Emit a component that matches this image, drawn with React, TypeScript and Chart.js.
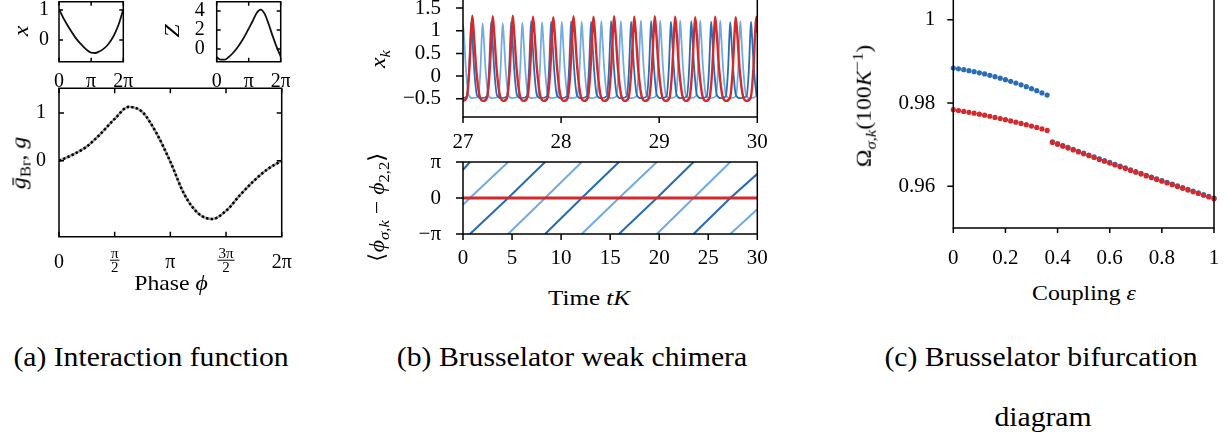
import React, { useEffect, useRef } from 'react';
import { Chart, registerables } from 'chart.js';

Chart.register(...registerables);

const FONT = "'Liberation Serif', 'Times New Roman', serif";
const RED = '#d42a2e';
const DARK_BLUE = '#2a6db3';
const LIGHT_BLUE = '#74ace2';

// ---------- (a) interaction function (phase in units of pi) ----------
const phiSmall = [0, 0.125, 0.25, 0.375, 0.5, 0.625, 0.75, 0.875, 1, 1.125, 1.25, 1.375, 1.5, 1.625, 1.75, 1.875, 2];
const xOrbit = [1.03, 0.76, 0.52, 0.3, 0.1, -0.07, -0.21, -0.34, -0.42, -0.43, -0.38, -0.3, -0.18, 0.0, 0.25, 0.58, 1.03];
const zPrc = [-0.88, -1.12, -1.12, -0.85, -0.45, 0.05, 0.65, 1.35, 2.15, 2.95, 3.8, 4.15, 3.7, 2.6, 1.35, 0.2, -0.8];
const phiMain = [0, 0.125, 0.25, 0.375, 0.5, 0.625, 0.75, 0.875, 1, 1.125, 1.25, 1.375, 1.5, 1.625, 1.75, 1.875, 2];
const gInteraction = [0, 0.13, 0.3, 0.57, 0.88, 1.13, 1.02, 0.58, -0.02, -0.7, -1.1, -1.22, -1.05, -0.72, -0.42, -0.17, 0];

// ---------- (b) top: x_k time series ----------
const xkRed: [number, number][] = [
  [27.0, -0.55],
  [27.037, -0.48], [27.065, 0.15], [27.083, 0.95], [27.095, 1.33], [27.11, 0.95], [27.135, 0.15], [27.17, -0.45], [27.205, -0.55],
  [27.245, -0.48], [27.273, 0.15], [27.291, 0.95], [27.303, 1.32], [27.318, 0.95], [27.343, 0.15], [27.378, -0.45], [27.413, -0.55],
  [27.449, -0.48], [27.477, 0.15], [27.495, 0.95], [27.507, 1.33], [27.522, 0.95], [27.547, 0.15], [27.582, -0.45], [27.617, -0.55],
  [27.656, -0.48], [27.684, 0.15], [27.702, 0.95], [27.714, 1.31], [27.729, 0.95], [27.754, 0.15], [27.789, -0.45], [27.824, -0.55],
  [27.862, -0.48], [27.89, 0.15], [27.908, 0.95], [27.92, 1.3], [27.935, 0.95], [27.96, 0.15], [27.995, -0.45], [28.03, -0.55],
  [28.068, -0.48], [28.096, 0.15], [28.114, 0.95], [28.126, 1.32], [28.141, 0.95], [28.166, 0.15], [28.201, -0.45], [28.236, -0.55],
  [28.272, -0.48], [28.3, 0.15], [28.318, 0.95], [28.33, 1.31], [28.345, 0.95], [28.37, 0.15], [28.405, -0.45], [28.44, -0.55],
  [28.482, -0.48], [28.51, 0.15], [28.528, 0.95], [28.54, 1.32], [28.555, 0.95], [28.58, 0.15], [28.615, -0.45], [28.65, -0.55],
  [28.688, -0.48], [28.716, 0.15], [28.734, 0.95], [28.746, 1.31], [28.761, 0.95], [28.786, 0.15], [28.821, -0.45], [28.856, -0.55],
  [28.897, -0.48], [28.925, 0.15], [28.943, 0.95], [28.955, 1.32], [28.97, 0.95], [28.995, 0.15], [29.03, -0.45], [29.065, -0.55],
  [29.105, -0.48], [29.133, 0.15], [29.151, 0.95], [29.163, 1.31], [29.178, 0.95], [29.203, 0.15], [29.238, -0.45], [29.273, -0.55],
  [29.309, -0.48], [29.337, 0.15], [29.355, 0.95], [29.367, 1.3], [29.382, 0.95], [29.407, 0.15], [29.442, -0.45], [29.477, -0.55],
  [29.513, -0.48], [29.541, 0.15], [29.559, 0.95], [29.571, 1.31], [29.586, 0.95], [29.611, 0.15], [29.646, -0.45], [29.681, -0.55],
  [29.722, -0.48], [29.75, 0.15], [29.768, 0.95], [29.78, 1.3], [29.795, 0.95], [29.82, 0.15], [29.855, -0.45], [29.89, -0.55],
  [29.932, -0.48], [29.96, 0.15], [29.978, 0.95], [29.99, 1.31], [30.005, 0.95], [30.03, 0.15], [30.065, -0.45], [30.1, -0.55],
];

const xkDarkBlue: [number, number][] = [
  [26.835, -0.45], [26.858, 0.15], [26.871, 0.85], [26.88, 1.2], [26.891, 0.85], [26.91, 0.15], [26.938, -0.42], [26.98, -0.49],
  [27.039, -0.45], [27.062, 0.15], [27.075, 0.85], [27.084, 1.19], [27.095, 0.85], [27.114, 0.15], [27.142, -0.42], [27.184, -0.49],
  [27.243, -0.45], [27.266, 0.15], [27.279, 0.85], [27.288, 1.2], [27.299, 0.85], [27.318, 0.15], [27.346, -0.42], [27.388, -0.49],
  [27.447, -0.45], [27.47, 0.15], [27.483, 0.85], [27.492, 1.2], [27.503, 0.85], [27.522, 0.15], [27.55, -0.42], [27.592, -0.49],
  [27.65, -0.45], [27.673, 0.15], [27.686, 0.85], [27.695, 1.21], [27.706, 0.85], [27.725, 0.15], [27.753, -0.42], [27.795, -0.49],
  [27.854, -0.45], [27.877, 0.15], [27.89, 0.85], [27.899, 1.2], [27.91, 0.85], [27.929, 0.15], [27.957, -0.42], [27.999, -0.49],
  [28.058, -0.45], [28.081, 0.15], [28.094, 0.85], [28.103, 1.21], [28.114, 0.85], [28.133, 0.15], [28.161, -0.42], [28.203, -0.49],
  [28.261, -0.45], [28.284, 0.15], [28.297, 0.85], [28.306, 1.2], [28.317, 0.85], [28.336, 0.15], [28.364, -0.42], [28.406, -0.49],
  [28.465, -0.45], [28.488, 0.15], [28.501, 0.85], [28.51, 1.21], [28.521, 0.85], [28.54, 0.15], [28.568, -0.42], [28.61, -0.49],
  [28.669, -0.45], [28.692, 0.15], [28.705, 0.85], [28.714, 1.2], [28.725, 0.85], [28.744, 0.15], [28.772, -0.42], [28.814, -0.49],
  [28.873, -0.45], [28.896, 0.15], [28.909, 0.85], [28.918, 1.21], [28.929, 0.85], [28.948, 0.15], [28.976, -0.42], [29.018, -0.49],
  [29.075, -0.45], [29.098, 0.15], [29.111, 0.85], [29.12, 1.2], [29.131, 0.85], [29.15, 0.15], [29.178, -0.42], [29.22, -0.49],
  [29.282, -0.45], [29.305, 0.15], [29.318, 0.85], [29.327, 1.21], [29.338, 0.85], [29.357, 0.15], [29.385, -0.42], [29.427, -0.49],
  [29.485, -0.45], [29.508, 0.15], [29.521, 0.85], [29.53, 1.2], [29.541, 0.85], [29.56, 0.15], [29.588, -0.42], [29.63, -0.49],
  [29.679, -0.45], [29.702, 0.15], [29.715, 0.85], [29.724, 1.19], [29.735, 0.85], [29.754, 0.15], [29.782, -0.42], [29.824, -0.49],
  [29.891, -0.45], [29.914, 0.15], [29.927, 0.85], [29.936, 1.2], [29.947, 0.85], [29.966, 0.15], [29.994, -0.42], [30.036, -0.49],
];

const xkLightBlue: [number, number][] = [
  [26.955, -0.45], [26.978, 0.15], [26.991, 0.85], [27.0, 1.15], [27.011, 0.85], [27.03, 0.15], [27.058, -0.42], [27.1, -0.49],
  [27.155, -0.45], [27.178, 0.15], [27.191, 0.85], [27.2, 1.16], [27.211, 0.85], [27.23, 0.15], [27.258, -0.42], [27.3, -0.49],
  [27.36, -0.45], [27.383, 0.15], [27.396, 0.85], [27.405, 1.17], [27.416, 0.85], [27.435, 0.15], [27.463, -0.42], [27.505, -0.49],
  [27.56, -0.45], [27.583, 0.15], [27.596, 0.85], [27.605, 1.18], [27.616, 0.85], [27.635, 0.15], [27.663, -0.42], [27.705, -0.49],
  [27.761, -0.45], [27.784, 0.15], [27.797, 0.85], [27.806, 1.19], [27.817, 0.85], [27.836, 0.15], [27.864, -0.42], [27.906, -0.49],
  [27.962, -0.45], [27.985, 0.15], [27.998, 0.85], [28.007, 1.2], [28.018, 0.85], [28.037, 0.15], [28.065, -0.42], [28.107, -0.49],
  [28.165, -0.45], [28.188, 0.15], [28.201, 0.85], [28.21, 1.2], [28.221, 0.85], [28.24, 0.15], [28.268, -0.42], [28.31, -0.49],
  [28.365, -0.45], [28.388, 0.15], [28.401, 0.85], [28.41, 1.21], [28.421, 0.85], [28.44, 0.15], [28.468, -0.42], [28.51, -0.49],
  [28.564, -0.45], [28.587, 0.15], [28.6, 0.85], [28.609, 1.21], [28.62, 0.85], [28.639, 0.15], [28.667, -0.42], [28.709, -0.49],
  [28.768, -0.45], [28.791, 0.15], [28.804, 0.85], [28.813, 1.22], [28.824, 0.85], [28.843, 0.15], [28.871, -0.42], [28.913, -0.49],
  [28.965, -0.45], [28.988, 0.15], [29.001, 0.85], [29.01, 1.22], [29.021, 0.85], [29.04, 0.15], [29.068, -0.42], [29.11, -0.49],
  [29.169, -0.45], [29.192, 0.15], [29.205, 0.85], [29.214, 1.22], [29.225, 0.85], [29.244, 0.15], [29.272, -0.42], [29.314, -0.49],
  [29.373, -0.45], [29.396, 0.15], [29.409, 0.85], [29.418, 1.22], [29.429, 0.85], [29.448, 0.15], [29.476, -0.42], [29.518, -0.49],
  [29.577, -0.45], [29.6, 0.15], [29.613, 0.85], [29.622, 1.22], [29.633, 0.85], [29.652, 0.15], [29.68, -0.42], [29.722, -0.49],
  [29.782, -0.45], [29.805, 0.15], [29.818, 0.85], [29.827, 1.21], [29.838, 0.85], [29.857, 0.15], [29.885, -0.42], [29.927, -0.49],
  [29.985, -0.45], [30.008, 0.15], [30.021, 0.85], [30.03, 1.2],
];

// ---------- (b) bottom: phase differences (units of pi), null = wrap ----------
const phaseRed: [number, number | null][] = [[0, 0], [30, 0]];
const phaseDarkBlue: [number, number | null][] = [
  [0, 0.78], [0.71, 1], [0.71, null],
  [0.71, -1], [4.6, 0], [8.37, 1], [8.37, null],
  [8.37, -1], [12.1, 0], [15.9, 1], [15.9, null],
  [15.9, -1], [19.76, 0], [23.5, 1], [23.5, null],
  [23.5, -1], [27.25, 0], [30, 0.67],
];
const phaseLightBlue: [number, number | null][] = [
  [0, -0.19], [0.71, 0], [4.6, 1], [4.6, null],
  [4.6, -1], [8.37, 0], [12.1, 1], [12.1, null],
  [12.1, -1], [15.9, 0], [19.76, 1], [19.76, null],
  [19.76, -1], [23.5, 0], [27.25, 1], [27.25, null],
  [27.25, -1], [30, -0.31],
];

// ---------- (c) bifurcation diagram ----------
const epsLow = [0, 0.02, 0.04, 0.06, 0.08, 0.1, 0.12, 0.14, 0.16, 0.18, 0.2, 0.22, 0.24, 0.26, 0.28, 0.3, 0.32, 0.34, 0.36];
const omegaBlueLow = [0.9884, 0.98821, 0.988, 0.98777, 0.98752, 0.98725, 0.98697, 0.98665, 0.98632, 0.98597, 0.9856, 0.98521, 0.9848, 0.98436, 0.98391, 0.98344, 0.98295, 0.98243, 0.9819];
const omegaRedLow = [0.9784, 0.9782, 0.97799, 0.97777, 0.97755, 0.97731, 0.97707, 0.97682, 0.97655, 0.97628, 0.976, 0.97571, 0.97541, 0.9751, 0.97479, 0.97446, 0.97413, 0.97378, 0.97343];
const epsHigh = [0.38, 0.4, 0.42, 0.44, 0.46, 0.48, 0.5, 0.52, 0.54, 0.56, 0.58, 0.6, 0.62, 0.64, 0.66, 0.68, 0.7, 0.72, 0.74, 0.76, 0.78, 0.8, 0.82, 0.84, 0.86, 0.88, 0.9, 0.92, 0.94, 0.96, 0.98, 1.0];
const omegaRedHigh = [0.97055, 0.97009, 0.96963, 0.96918, 0.96872, 0.96827, 0.96781, 0.96736, 0.96692, 0.96647, 0.96602, 0.96558, 0.96514, 0.96469, 0.96426, 0.96382, 0.96338, 0.96295, 0.96251, 0.96208, 0.96165, 0.96123, 0.9608, 0.96038, 0.95995, 0.95953, 0.95911, 0.95869, 0.95828, 0.95786, 0.95745, 0.95703];
const omegaBlueHigh = [0.9707, 0.97024, 0.96978, 0.96933, 0.96887, 0.96842, 0.96796, 0.96751, 0.96707, 0.96662, 0.96617, 0.96573, 0.96529, 0.96484, 0.96441, 0.96397, 0.96353, 0.9631, 0.96266, 0.96223, 0.9618, 0.96138, 0.96095, 0.96053, 0.9601, 0.95968, 0.95926, 0.95884, 0.95843, 0.95801, 0.9576, 0.95718];

// ---------- tick values ----------
const piTicks = [0, 1, 2];
const piHalfTicks = [0, 0.5, 1, 1.5, 2];
const xTicksB1 = [27, 28, 29, 30];
const yTicksB1 = [-0.5, 0, 0.5, 1, 1.5];
const xTicksB2 = [0, 5, 10, 15, 20, 25, 30];
const yTicksB2 = [-1, 0, 1];
const xTicksC = [0, 0.2, 0.4, 0.6, 0.8, 1];
const yTicksC = [0.96, 0.98, 1];

const minus = (v: number) => (v < 0 ? '\u2212' : '') + String(Math.abs(v));
const piLabel = (v: number) => (v === 0 ? '0' : v === 1 ? '\u03c0' : v === -1 ? '\u2212\u03c0' : v === 2 ? '2\u03c0' : '');

const framePlugin: any = {
  id: 'frame',
  afterDatasetsDraw(chart: any, _args: any, o: any) {
    if (!o || !o.sides) return;
    const { ctx, chartArea: ca, scales } = chart;
    const xs = scales.x;
    const ys = scales.y;
    ctx.save();
    ctx.strokeStyle = '#000';
    ctx.lineWidth = o.lw || 1.4;
    ctx.lineCap = 'square';
    ctx.beginPath();
    const s: string = o.sides;
    if (s.includes('l')) { ctx.moveTo(ca.left, ca.top); ctx.lineTo(ca.left, ca.bottom); }
    if (s.includes('r')) { ctx.moveTo(ca.right, ca.top); ctx.lineTo(ca.right, ca.bottom); }
    if (s.includes('t')) { ctx.moveTo(ca.left, ca.top); ctx.lineTo(ca.right, ca.top); }
    if (s.includes('b')) { ctx.moveTo(ca.left, ca.bottom); ctx.lineTo(ca.right, ca.bottom); }
    ctx.stroke();
    ctx.lineCap = 'butt';
    ctx.beginPath();
    const sign = o.dir === 'in' ? -1 : 1;
    const xt: number[] = o.xTicks || [];
    const yt: number[] = o.yTicks || [];
    xt.forEach((v) => {
      const px = xs.getPixelForValue(v);
      ctx.moveTo(px, ca.bottom); ctx.lineTo(px, ca.bottom + sign * o.lenX);
      if (o.mirror) { ctx.moveTo(px, ca.top); ctx.lineTo(px, ca.top - sign * o.lenX); }
    });
    yt.forEach((v) => {
      const py = ys.getPixelForValue(v);
      ctx.moveTo(ca.left, py); ctx.lineTo(ca.left - sign * o.lenY, py);
      if (o.mirror) { ctx.moveTo(ca.right, py); ctx.lineTo(ca.right + sign * o.lenY, py); }
    });
    ctx.stroke();
    if (o.xLabels) {
      ctx.fillStyle = '#000';
      ctx.textAlign = 'center';
      ctx.textBaseline = 'middle';
      ctx.lineWidth = 1;
      const lbls: any[] = o.xLabels;
      lbls.forEach((L: any) => {
        const px = xs.getPixelForValue(L.v);
        if (L.d) {
          ctx.font = `${o.fracSize}px ${FONT}`;
          ctx.fillText(L.n, px, ca.bottom + o.numDy);
          ctx.fillText(L.d, px, ca.bottom + o.denDy);
          const w = ctx.measureText(L.n).width + 2;
          ctx.beginPath();
          ctx.moveTo(px - w / 2, ca.bottom + o.barDy);
          ctx.lineTo(px + w / 2, ca.bottom + o.barDy);
          ctx.stroke();
        } else {
          ctx.font = `${o.lblSize}px ${FONT}`;
          ctx.fillText(L.n, px, ca.bottom + o.lblDy);
        }
      });
    }
    ctx.restore();
  },
};

const pairs = (a: [number, number | null][]) => a.map(([x, y]) => ({ x, y }));
const zipXY = (xs: number[], ys: number[]) => xs.map((x, i) => ({ x, y: ys[i] }));

function lineDs(data: any[], color: string, width: number, extra: any = {}) {
  return {
    data,
    borderColor: color,
    backgroundColor: color,
    borderWidth: width,
    pointRadius: 0,
    fill: false,
    borderJoinStyle: 'round',
    ...extra,
  };
}

function dotDs(data: any[], color: string) {
  return {
    data,
    showLine: false,
    pointRadius: 2.6,
    pointBorderWidth: 0,
    pointBackgroundColor: color,
    borderColor: color,
    backgroundColor: color,
    clip: false,
  };
}

function zeroPad(s: any) {
  s.paddingLeft = 0;
  s.paddingRight = 0;
  s.paddingTop = 0;
  s.paddingBottom = 0;
}

function buildConfig(sp: any) {
  const { box, area } = sp;
  const yW = area.l - box.x;
  const xH = box.y + box.h - area.b;
  const padTop = area.t - box.y;
  const padRight = box.x + box.w - area.r;
  const sc = (a: any, fit: (s: any) => void) => ({
    type: 'linear',
    min: a.min,
    max: a.max,
    afterBuildTicks: (s: any) => { s.ticks = a.ticks.map((v: number) => ({ value: v })); },
    afterFit: (s: any) => { fit(s); zeroPad(s); },
    grid: { display: false, drawTicks: false },
    border: { display: false },
    ticks: {
      display: !!a.labels,
      autoSkip: false,
      maxRotation: 0,
      minRotation: 0,
      padding: a.pad ?? 8,
      color: '#000',
      font: { family: FONT, size: a.font ?? 21 },
      callback: (v: any) => (a.labels ? a.labels(Number(v)) : ''),
    },
  });
  return {
    type: 'line',
    data: { datasets: sp.datasets },
    options: {
      animation: false,
      responsive: false,
      maintainAspectRatio: false,
      devicePixelRatio: 1,
      events: [],
      layout: { autoPadding: false, padding: { left: 0, top: padTop, right: padRight, bottom: 0 } },
      plugins: { legend: { display: false }, tooltip: { enabled: false }, frame: sp.frame },
      scales: {
        x: sc(sp.x, (s: any) => { s.height = xH; }),
        y: sc(sp.y, (s: any) => { s.width = yW; }),
      },
    },
    plugins: [framePlugin],
  };
}

const specs: any[] = [
  {
    box: { x: 0, y: 0, w: 135, h: 95 },
    area: { l: 59, t: 1.7, r: 123.3, b: 61.7 },
    x: { min: 0, max: 2, ticks: piTicks, labels: piLabel, pad: 8, font: 20 },
    y: { min: -0.72, max: 1.28, ticks: [0, 1], labels: (v: number) => String(v), pad: 10, font: 20 },
    datasets: [lineDs(zipXY(phiSmall, xOrbit), '#111', 1.8, { cubicInterpolationMode: 'monotone' })],
    frame: { sides: 'lrtb', dir: 'in', lenX: 4, lenY: 4, mirror: true, xTicks: piTicks, yTicks: [0, 1], lw: 1.5 },
  },
  {
    box: { x: 150, y: 0, w: 140, h: 95 },
    area: { l: 216.7, t: 1.7, r: 280.7, b: 61.7 },
    x: { min: 0, max: 2, ticks: piTicks, labels: piLabel, pad: 8, font: 20 },
    y: { min: -1.34, max: 4.98, ticks: [0, 2, 4], labels: (v: number) => String(v), pad: 12, font: 20 },
    datasets: [lineDs(zipXY(phiSmall, zPrc), '#111', 1.8, { cubicInterpolationMode: 'monotone' })],
    frame: { sides: 'lrtb', dir: 'in', lenX: 4, lenY: 4, mirror: true, xTicks: piTicks, yTicks: [0, 2, 4], lw: 1.5 },
  },
  {
    box: { x: 0, y: 80, w: 300, h: 200 },
    area: { l: 59, t: 88.3, r: 281.7, b: 236.7 },
    x: { min: 0, max: 2, ticks: piHalfTicks, labels: null },
    y: { min: -1.59, max: 1.52, ticks: [0, 1], labels: (v: number) => String(v), pad: 13, font: 20 },
    datasets: [
      lineDs(zipXY(phiMain, gInteraction), '#000', 2.6, { cubicInterpolationMode: 'monotone', borderDash: [2.3, 2.3] }),
      lineDs(zipXY(phiMain, gInteraction), '#9a9a9a', 2.4, { cubicInterpolationMode: 'monotone' }),
    ],
    frame: {
      sides: 'lrtb', dir: 'in', lenX: 5, lenY: 5, mirror: true, xTicks: piHalfTicks, yTicks: [0, 1], lw: 1.5,
      xLabels: [
        { v: 0, n: '0' },
        { v: 0.5, n: '\u03c0', d: '2' },
        { v: 1, n: '\u03c0' },
        { v: 1.5, n: '3\u03c0', d: '2' },
        { v: 2, n: '2\u03c0' },
      ],
      lblSize: 20, lblDy: 25.9, fracSize: 15, numDy: 17.3, denDy: 31.3, barDy: 23.5,
    },
  },
  {
    box: { x: 380, y: -3, w: 390, h: 160 },
    area: { l: 463, t: -3, r: 757.3, b: 117 },
    x: { min: 27, max: 30, ticks: xTicksB1, labels: (v: number) => String(v), pad: 12.5 },
    y: { min: -0.905, max: 1.745, ticks: yTicksB1, labels: minus, pad: 22 },
    datasets: [
      lineDs(pairs(xkRed), RED, 2.4, { cubicInterpolationMode: 'monotone' }),
      lineDs(pairs(xkDarkBlue), DARK_BLUE, 1.8, { cubicInterpolationMode: 'monotone' }),
      lineDs(pairs(xkLightBlue), LIGHT_BLUE, 1.8, { cubicInterpolationMode: 'monotone' }),
    ],
    frame: { sides: 'lbr', dir: 'out', lenX: 6, lenY: 7, mirror: false, xTicks: xTicksB1, yTicks: yTicksB1, lw: 1.5 },
  },
  {
    box: { x: 380, y: 155, w: 390, h: 120 },
    area: { l: 463, t: 162, r: 757.3, b: 234 },
    x: { min: 0, max: 30, ticks: xTicksB2, labels: (v: number) => String(v), pad: 11.8 },
    y: { min: -1, max: 1, ticks: yTicksB2, labels: piLabel, pad: 22 },
    datasets: [
      lineDs(pairs(phaseRed), RED, 3),
      lineDs(pairs(phaseDarkBlue), DARK_BLUE, 2.1, { spanGaps: false }),
      lineDs(pairs(phaseLightBlue), LIGHT_BLUE, 2.1, { spanGaps: false }),
    ],
    frame: { sides: 'lbrt', dir: 'out', lenX: 6, lenY: 7, mirror: false, xTicks: xTicksB2, yTicks: yTicksB2, lw: 1.5 },
  },
  {
    box: { x: 870, y: -22, w: 359, h: 300 },
    area: { l: 953.3, t: -22, r: 1214, b: 228 },
    x: { min: 0, max: 1, ticks: xTicksC, labels: (v: number) => String(v), pad: 17.5 },
    y: { min: 0.95, max: 1.01, ticks: yTicksC, labels: (v: number) => String(v), pad: 18 },
    datasets: [
      dotDs([...zipXY(epsLow, omegaRedLow), ...zipXY(epsHigh, omegaRedHigh)], RED),
      dotDs([...zipXY(epsLow, omegaBlueLow), ...zipXY(epsHigh, omegaBlueHigh)], DARK_BLUE),
    ],
    frame: { sides: 'lbr', dir: 'out', lenX: 5, lenY: 6, mirror: false, xTicks: xTicksC, yTicks: yTicksC, lw: 1.5 },
  },
];

const Sub = ({ children }: any) => <span style={{ fontSize: '0.7em', verticalAlign: '-0.3em' }}>{children}</span>;
const Sup = ({ children }: any) => <span style={{ fontSize: '0.7em', verticalAlign: '0.55em' }}>{children}</span>;

const Lbl = ({ x, y, rot, size = 22, sx = 1.08, children }: any) => (
  <div
    style={{
      position: 'absolute',
      left: x,
      top: y,
      transform: `translate(-50%, -50%)${rot ? ' rotate(-90deg)' : ''} scaleX(${sx})`,
      fontSize: size,
      lineHeight: 1,
      whiteSpace: 'nowrap',
      color: '#000',
      fontFamily: FONT,
    }}
  >
    {children}
  </div>
);

export default function App() {
  const refs = useRef<(HTMLCanvasElement | null)[]>([]);
  useEffect(() => {
    const charts = specs.map((sp, i) => new Chart(refs.current[i] as HTMLCanvasElement, buildConfig(sp) as any));
    return () => charts.forEach((c) => c.destroy());
  }, []);
  return (
    <div style={{ position: 'absolute', left: 0, top: 0, width: 1229, height: 433, overflow: 'hidden', background: '#fff', fontFamily: FONT }}>
      {specs.map((sp, i) => (
        <canvas
          key={i}
          ref={(el) => { refs.current[i] = el; }}
          width={sp.box.w}
          height={sp.box.h}
          style={{ position: 'absolute', left: sp.box.x, top: sp.box.y, width: sp.box.w, height: sp.box.h }}
        />
      ))}
      <Lbl x={21} y={31} rot><i>x</i></Lbl>
      <Lbl x={172} y={31} rot><i>Z</i></Lbl>
      <Lbl x={20} y={163} rot><i>ḡ</i><Sub>Br</Sub>, <i>g</i></Lbl>
      <Lbl x={171} y={283}>Phase <i>ϕ</i></Lbl>
      <Lbl x={380} y={59} rot><i>x</i><Sub><i>k</i></Sub></Lbl>
      <Lbl x={379} y={207} rot>⟨<i>ϕ</i><Sub><i>σ</i>,<i>k</i></Sub> − <i>ϕ</i><Sub>2,2</Sub>⟩</Lbl>
      <Lbl x={589} y={298} sx={1.14}>Time <i>tK</i></Lbl>
      <Lbl x={864} y={106} rot>Ω<Sub><i>σ</i>,<i>k</i></Sub>(100<i>K</i><Sup>−1</Sup>)</Lbl>
      <Lbl x={1084} y={293}>Coupling <i>ε</i></Lbl>
      <Lbl x={151} y={357} size={26.5} sx={1.12}>(a) Interaction function</Lbl>
      <Lbl x={572} y={357} size={26.5} sx={1.12}>(b) Brusselator weak chimera</Lbl>
      <Lbl x={1041} y={357} size={26.5} sx={1.12}>(c) Brusselator bifurcation</Lbl>
      <Lbl x={1043} y={417} size={26.5} sx={1.12}>diagram</Lbl>
    </div>
  );
}
